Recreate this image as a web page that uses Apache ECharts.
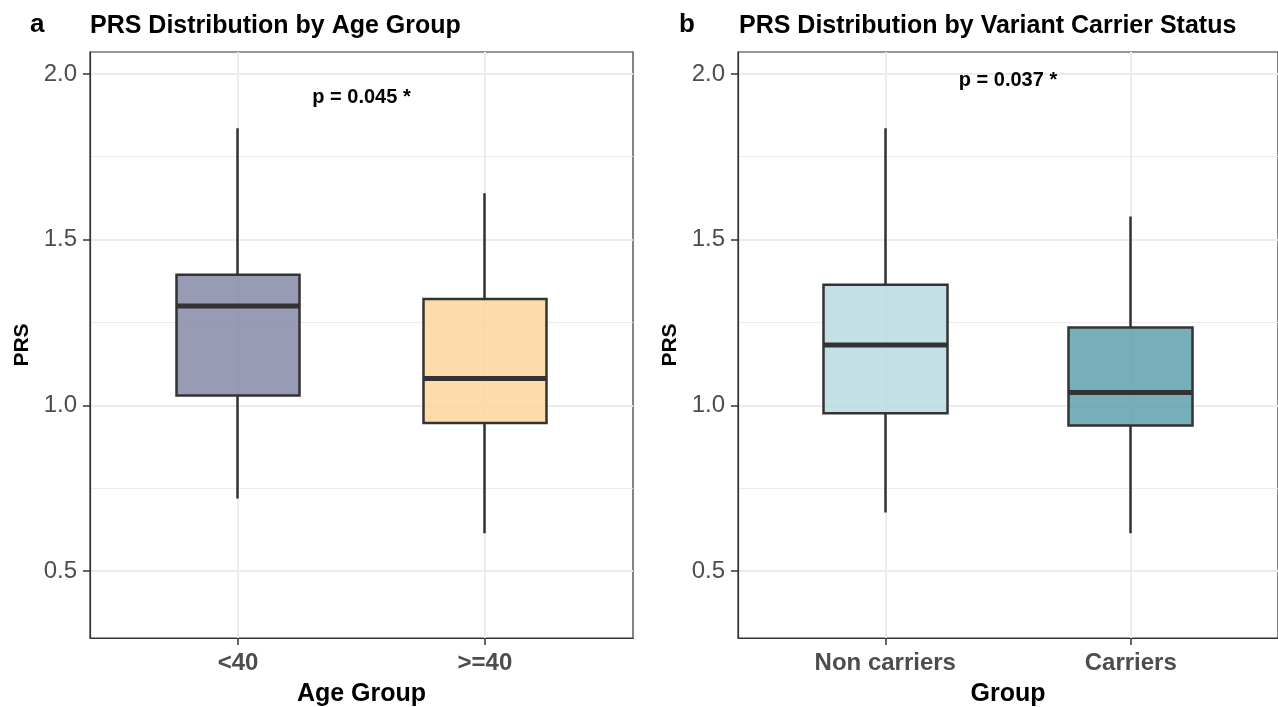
<!DOCTYPE html>
<html>
<head>
<meta charset="utf-8">
<script src="https://cdn.jsdelivr.net/npm/echarts@6/dist/echarts.min.js"></script>
<style>
  html, body { margin: 0; padding: 0; background: #fff; }
  #main { width: 1278px; height: 707px; }
</style>
</head>
<body>
<div id="main"></div>
<script>
// 数据
const ageGroups = ['<40', '>=40']
const ageMin = [0.719, 0.614]
const ageQ1 = [1.030, 0.947]
const ageMedian = [1.300, 1.081]
const ageQ3 = [1.394, 1.321]
const ageMax = [1.836, 1.640]
const ageP = 'p = 0.045 *'
const ageTitle = 'PRS Distribution by Age Group'

const carrierGroups = ['Non carriers', 'Carriers']
const carrierMin = [0.677, 0.614]
const carrierQ1 = [0.976, 0.939]
const carrierMedian = [1.182, 1.039]
const carrierQ3 = [1.364, 1.235]
const carrierMax = [1.836, 1.570]
const carrierP = 'p = 0.037 *'
const carrierTitle = 'PRS Distribution by Variant Carrier Status'

const yTicks = [0.5, 1.0, 1.5, 2.0]
const yMinorTicks = [0.75, 1.25, 1.75]
const pY = [1.929, 1.981]

// 样式
const ageColors = ['rgba(133,139,167,0.85)', 'rgba(254,213,155,0.85)']
const carrierColors = ['rgba(184,219,226,0.85)', 'rgba(94,160,174,0.85)']
const FONT = 'Liberation Sans'
const DARK = '#333333'
const GRIDC = '#EBEBEB'

const grids = [
    { left: 90, top: 52, width: 543, height: 586 },
    { left: 738, top: 52, width: 540, height: 586 }
]

function xAxisFor(idx, cats, name) {
    return {
        type: 'value', gridIndex: idx, min: 0.4, max: 2.6,
        name: name, nameLocation: 'middle', nameGap: 44,
        nameTextStyle: { fontFamily: FONT, fontSize: 25, fontWeight: 'bold', color: '#000' },
        axisLine: { show: true, lineStyle: { color: DARK, width: 1.2 } },
        axisTick: { show: true, length: 7, customValues: [1, 2], lineStyle: { color: DARK, width: 1.5 } },
        axisLabel: {
            customValues: [1, 2], margin: 13,
            fontFamily: FONT, fontSize: 24, fontWeight: 'bold', color: '#4D4D4D',
            formatter: v => cats[Math.round(v) - 1]
        },
        splitLine: { show: true, lineStyle: { color: GRIDC, width: 2 } }
    }
}

function yAxesFor(idx) {
    return [{
        type: 'value', gridIndex: idx, min: 0.298, max: 2.066,
        name: 'PRS', nameLocation: 'middle', nameGap: 57,
        nameTextStyle: { fontFamily: FONT, fontSize: 21, fontWeight: 'bold', color: '#000' },
        axisLine: { show: true, lineStyle: { color: DARK, width: 1.2 } },
        axisTick: { show: true, length: 7, customValues: yTicks, lineStyle: { color: DARK, width: 1.5 } },
        axisLabel: {
            customValues: yTicks, margin: 13,
            fontFamily: FONT, fontSize: 24, color: '#4D4D4D',
            formatter: v => v.toFixed(1)
        },
        splitLine: { show: true, lineStyle: { color: GRIDC, width: 2 } }
    }, {
        type: 'value', gridIndex: idx, min: 0.298, max: 2.066,
        axisLine: { show: false },
        axisTick: { show: false, customValues: yMinorTicks },
        axisLabel: { show: false, customValues: yMinorTicks },
        splitLine: { show: true, lineStyle: { color: GRIDC, width: 1 } }
    }]
}

function boxSeries(idx, mins, q1, med, q3, maxs, colors, pText, py) {
    const boxes = mins.map((m, i) => ({
        value: [i + 1, q1[i], q3[i], m, maxs[i]],
        itemStyle: { color: colors[i], color0: colors[i], borderColor: DARK, borderColor0: DARK }
    }))
    return [{
        type: 'candlestick', xAxisIndex: idx, yAxisIndex: idx * 2,
        barWidth: 124,
        itemStyle: { borderWidth: 2.5 },
        data: boxes, z: 3
    }, {
        type: 'scatter', xAxisIndex: idx, yAxisIndex: idx * 2,
        symbol: 'rect', symbolSize: [124, 5],
        itemStyle: { color: DARK, opacity: 1 },
        data: med.map((v, i) => [i + 1, v]), z: 4,
        markPoint: {
            symbol: 'circle', symbolSize: 1,
            itemStyle: { color: 'rgba(0,0,0,0)' },
            label: {
                show: true, position: 'inside', formatter: '{b}',
                fontFamily: FONT, fontSize: 20, fontWeight: 'bold', color: '#000'
            },
            data: [{ name: pText, coord: [1.5, py] }]
        }
    }]
}

const chart = echarts.init(document.getElementById('main'), null, { renderer: 'canvas' })

const option = {
    animation: false,
    backgroundColor: '#fff',
    title: [
        { text: 'a', left: 25, top: 7, textStyle: { fontFamily: FONT, fontSize: 26, fontWeight: 'bold', color: '#000' } },
        { text: ageTitle, left: 85, top: 9, textStyle: { fontFamily: FONT, fontSize: 25, fontWeight: 'bold', color: '#000' } },
        { text: 'b', left: 674, top: 7, textStyle: { fontFamily: FONT, fontSize: 26, fontWeight: 'bold', color: '#000' } },
        { text: carrierTitle, left: 734, top: 9, textStyle: { fontFamily: FONT, fontSize: 25, fontWeight: 'bold', color: '#000' } }
    ],
    grid: grids.map(g => Object.assign({
        show: true, borderColor: DARK, borderWidth: 1.2, backgroundColor: '#fff',
        containLabel: false, outerBoundsMode: 'none'
    }, g)),
    xAxis: [xAxisFor(0, ageGroups, 'Age Group'), xAxisFor(1, carrierGroups, 'Group')],
    yAxis: [...yAxesFor(0), ...yAxesFor(1)],
    series: [
        ...boxSeries(0, ageMin, ageQ1, ageMedian, ageQ3, ageMax, ageColors, ageP, pY[0]),
        ...boxSeries(1, carrierMin, carrierQ1, carrierMedian, carrierQ3, carrierMax, carrierColors, carrierP, pY[1])
    ]
}

chart.setOption(option)
</script>
</body>
</html>
